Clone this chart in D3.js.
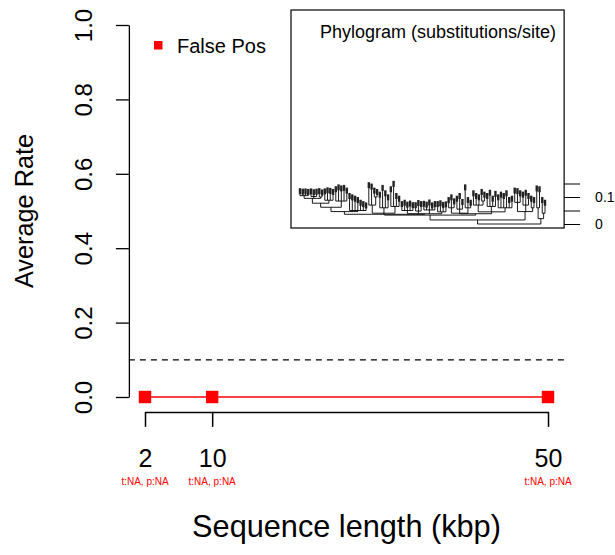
<!DOCTYPE html>
<html>
<head>
<meta charset="utf-8">
<script src="https://d3js.org/d3.v7.min.js"></script>
<style>
  body { margin: 0; background: #fff; }
  svg { display: block; font-family: "Liberation Sans", Arial, Helvetica, sans-serif; }
</style>
</head>
<body>
<svg id="chart" width="615" height="555"></svg>
<script>
// main series
const seqLengths = [2, 10, 50];
const falsePosRate = [0, 0, 0];
const pointNotes = ["t:NA, p:NA", "t:NA, p:NA", "t:NA, p:NA"];
const yTicks = [0, 0.2, 0.4, 0.6, 0.8, 1.0];
const threshold = 0.1;
const legendLabels = ["False Pos"];

// inset phylogram: [nodeHeight, children...], leaves are tip heights
const cladeLeft = [0.046,
  [0.062,
    [0.077,
      [0.095, [0.105, 0.118, 0.116, 0.117, 0.115], [0.102, 0.117, 0.114, 0.116], [0.100, 0.118, 0.113]],
      [0.088, 0.117, 0.121, 0.119, 0.115]],
    [0.085, 0.125, 0.132, 0.128, 0.13, 0.12]],
  [0.05, 0.1, 0.095, 0.09, 0.085, 0.075, 0.07, 0.065]];
const cladeTall = [0.04, [0.07, 0.14, 0.135, [0.1, 0.12, 0.115]], [0.06, 0.105, 0.13, 0.11, 0.095], [0.065, 0.125, 0.145, 0.1, 0.09]];
const cladeLow = [0.038, [0.05, 0.07, 0.075, 0.068, 0.072, 0.066], [0.048, 0.066, 0.074, 0.07], [0.052, 0.071, 0.068, 0.076, 0.065, 0.07], [0.045, 0.07, 0.073, 0.067, 0.069]];
const cladeSpike = [0.04, [0.06, 0.085, 0.095, 0.08], [0.055, 0.09, 0.1, 0.078], [0.06, 0.132, 0.085, 0.075]];
const cladeMid = [0.045, [0.07, 0.11, 0.1, 0.095, [0.085, 0.115, 0.105]], [0.065, 0.1, 0.112, 0.09, 0.108], [0.06, 0.095, 0.105, 0.1, 0.11, 0.085, 0.09]];
const cladeRight = [0.046, [0.08, 0.12, 0.118, 0.11], [0.07, 0.105, 0.112, 0.1], [0.06, 0.09, 0.085]];
const cladeOut = [0.02, [0.06, 0.128, 0.125], [0.04, 0.085, 0.075]];
const phylogeny = [0, [0.015, [0.033, [0.036, cladeLeft, cladeTall, cladeLow], [0.038, cladeSpike, cladeMid]], cladeRight], cladeOut];
const treeScaleTicks = [0, 0.05, 0.1, 0.15];
const treeScaleLabels = ["0", "", "0.1", ""];

const svg = d3.select("#chart");
const red = "#ff0000";

const x = d3.scaleLinear().domain([2, 50]).range([145, 548]);
const y = d3.scaleLinear().domain([0, 1]).range([397, 25]);
const pad = 0.04;
const plotLeft = x(2 - pad * 48), plotRight = x(50 + pad * 48);
const plotBottom = y(-pad);

// y axis
const gy = svg.append("g")
    .attr("transform", `translate(${plotLeft},0)`)
    .call(d3.axisLeft(y).tickValues(yTicks).tickSize(13).tickSizeOuter(0).tickFormat(d3.format(".1f")));
gy.selectAll("text")
    .attr("x", null).attr("dy", null)
    .attr("text-anchor", "middle")
    .attr("transform", "translate(-37,0) rotate(-90)")
    .style("font-size", "24px").attr("fill", "#000");
gy.selectAll("line, path").attr("stroke", "#000").attr("stroke-width", 1.3);

// x axis
const gx = svg.append("g")
    .attr("transform", `translate(0,${plotBottom})`)
    .call(d3.axisBottom(x).tickValues(seqLengths).tickSize(15).tickSizeOuter(0).tickFormat(d3.format("d")));
gx.selectAll("text")
    .attr("y", 55).attr("dy", null)
    .style("font-size", "25px").attr("fill", "#000");
gx.selectAll("line, path").attr("stroke", "#000").attr("stroke-width", 1.5);

svg.append("g").selectAll("text")
  .data(seqLengths)
  .join("text")
    .attr("x", d => x(d))
    .attr("y", 485)
    .attr("text-anchor", "middle")
    .style("font-size", "10px")
    .attr("fill", red)
    .text((d, i) => pointNotes[i]);

// axis titles
svg.append("text")
    .attr("transform", `translate(33,${(y(0) + y(1)) / 2}) rotate(-90)`)
    .attr("text-anchor", "middle")
    .style("font-size", "25.3px")
    .text("Average Rate");
svg.append("text")
    .attr("x", (x(2) + x(50)) / 2)
    .attr("y", 537)
    .attr("text-anchor", "middle")
    .style("font-size", "30.7px")
    .text("Sequence length (kbp)");

// threshold line
svg.append("line")
    .attr("x1", plotLeft).attr("x2", plotRight)
    .attr("y1", y(threshold)).attr("y2", y(threshold))
    .attr("stroke", "#000").attr("stroke-width", 1.3)
    .attr("stroke-dasharray", "6,5");

// series
svg.append("path")
    .datum(seqLengths.map((d, i) => [d, falsePosRate[i]]))
    .attr("fill", "none")
    .attr("stroke", red)
    .attr("stroke-width", 1.6)
    .attr("d", d3.line().x(d => x(d[0])).y(d => y(d[1])));
svg.append("g").selectAll("rect")
  .data(seqLengths)
  .join("rect")
    .attr("x", d => x(d) - 6.2)
    .attr("y", (d, i) => y(falsePosRate[i]) - 6.2)
    .attr("width", 12.4).attr("height", 12.4)
    .attr("fill", red);

// legend
legendLabels.forEach((lab, i) => {
  svg.append("rect")
      .attr("x", 154).attr("y", 41 + i * 25)
      .attr("width", 8.5).attr("height", 8.5)
      .attr("fill", red);
  svg.append("text")
      .attr("x", 177).attr("y", 53 + i * 25)
      .style("font-size", "20px")
      .text(lab);
});

// inset phylogram
const inset = svg.append("g");
inset.append("rect")
    .attr("x", 291).attr("y", 10)
    .attr("width", plotRight - 291).attr("height", 218)
    .attr("fill", "#fff").attr("stroke", "#000").attr("stroke-width", 1.2);
inset.append("text")
    .attr("x", 556).attr("y", 38)
    .attr("text-anchor", "end")
    .style("font-size", "18px")
    .text("Phylogram (substitutions/site)");

const root = d3.hierarchy(phylogeny, d => Array.isArray(d) ? d.slice(1) : null);
root.each(n => { n.h = Array.isArray(n.data) ? n.data[0] : n.data; });
const leaves = root.leaves();
const tx = d3.scaleLinear().domain([0, leaves.length - 1]).range([300, 545]);
const ty = d3.scaleLinear().domain([0, 0.15]).range([224, 183.5]);
leaves.forEach((n, i) => { n.px = tx(i); });
root.eachAfter(n => {
  if (n.children) n.px = (n.children[0].px + n.children[n.children.length - 1].px) / 2;
});

const treeG = inset.append("g").attr("stroke", "#000").attr("stroke-width", 0.9).attr("fill", "none");
root.descendants().forEach(n => {
  if (n.parent) {
    treeG.append("line")
        .attr("x1", n.px).attr("x2", n.px)
        .attr("y1", ty(n.parent.h)).attr("y2", ty(n.h));
  }
  if (n.children) {
    treeG.append("line")
        .attr("x1", n.children[0].px).attr("x2", n.children[n.children.length - 1].px)
        .attr("y1", ty(n.h)).attr("y2", ty(n.h));
  }
});
// tip labels (too small to read, shown as dark marks)
inset.append("g").selectAll("rect")
  .data(leaves)
  .join("rect")
    .attr("x", n => n.px - 1.2)
    .attr("y", n => ty(n.h) - 4)
    .attr("width", 2.4).attr("height", 6)
    .attr("fill", "#222");

// inset scale
const gs = inset.append("g")
    .attr("transform", `translate(${plotRight},0)`)
    .call(d3.axisRight(ty).tickValues(treeScaleTicks).tickSize(16).tickPadding(15)
      .tickFormat((d, i) => treeScaleLabels[i]));
gs.select(".domain").remove();
gs.selectAll("line").attr("stroke", "#000").attr("stroke-width", 1);
gs.selectAll("text").style("font-size", "14px").attr("fill", "#000");
</script>
</body>
</html>
